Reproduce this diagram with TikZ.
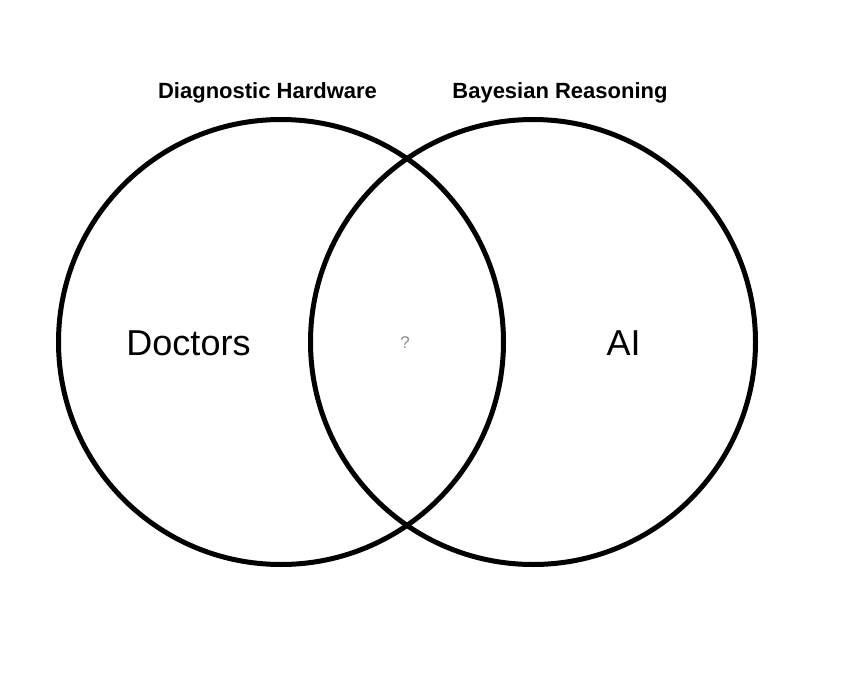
\documentclass[tikz,border=0pt]{standalone}
\usepackage{fontspec}
\setmainfont{Liberation Sans}
\begin{document}
\begin{tikzpicture}[x=1pt,y=-1pt,
  ring/.style={draw=black,line width=5pt},
  settitle/.style={font=\fontsize{22}{26}\selectfont\bfseries,inner sep=0pt,anchor=center},
  biglabel/.style={font=\fontsize{36}{42}\selectfont,inner sep=0pt},
  qlabel/.style={font=\fontsize{17}{20}\selectfont,text=black!45,inner sep=0pt}]
\useasboundingbox (0,0) rectangle (862,677);
\draw[ring] (281,342) circle[radius=222.5];
\draw[ring] (533,342) circle[radius=222.5];
\node[settitle] (t1) at (267.5,93) {Diagnostic Hardware};
\node[settitle] (t2) at (560,93) {Bayesian Reasoning};
\node[biglabel] (doc) at (188.5,343) {Doctors};
\node[biglabel] (ai) at (623.5,343) {AI};
\node[qlabel] (q) at (405,343) {?};
\end{tikzpicture}
\end{document}
